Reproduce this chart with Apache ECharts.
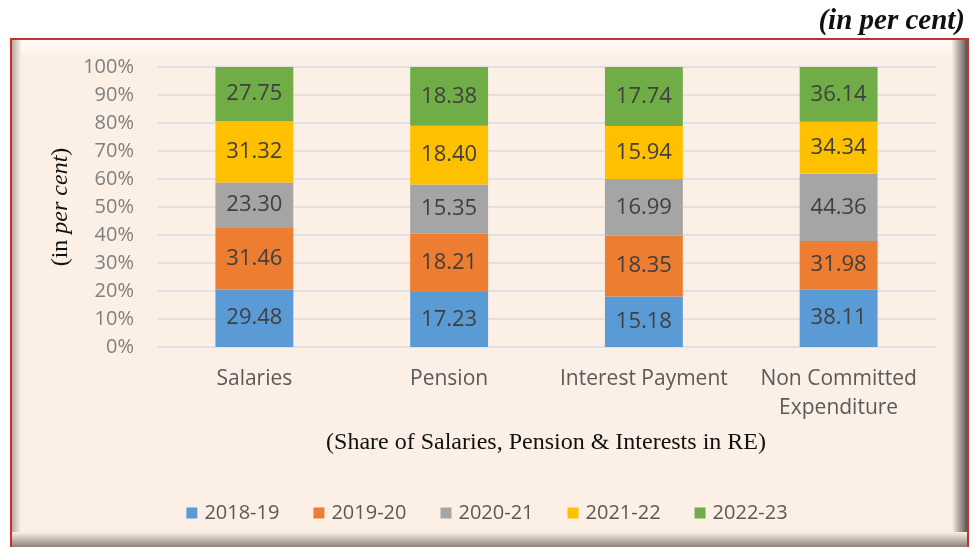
<!DOCTYPE html>
<html>
<head>
<meta charset="utf-8">
<script src="https://cdn.jsdelivr.net/npm/echarts@6/dist/echarts.min.js"></script>
<style>
  html, body { margin: 0; padding: 0; background: #fff; }
  #chart { width: 974px; height: 547px; }
</style>
</head>
<body>
<div id="chart"></div>
<script>
const categories = ['Salaries', 'Pension', 'Interest Payment', 'Non Committed\nExpenditure']
const years = ['2018-19', '2019-20', '2020-21', '2021-22', '2022-23']
const v1819 = [29.48, 17.23, 15.18, 38.11]
const v1920 = [31.46, 18.21, 18.35, 31.98]
const v2021 = [23.30, 15.35, 16.99, 44.36]
const v2122 = [31.32, 18.40, 15.94, 34.34]
const v2223 = [27.75, 18.38, 17.74, 36.14]
const yTicks = ['0%', '10%', '20%', '30%', '40%', '50%', '60%', '70%', '80%', '90%', '100%']

const palette = ['#5B9BD5', '#ED7D31', '#A5A5A5', '#FFC000', '#70AD47']
const raw = [v1819, v1920, v2021, v2122, v2223]

// 100% stacked: each column is scaled to its own total
const totals = categories.map((_, i) => raw.reduce((s, arr) => s + arr[i], 0))

const font = '"Open Sans", "Noto Sans", sans-serif'
const serif = '"Liberation Serif", "DejaVu Serif", serif'

function grad(x2, y2, from, to) {
  return new echarts.graphic.LinearGradient(0, 0, x2, y2, [
    { offset: 0, color: from },
    { offset: 1, color: to }
  ])
}

const chart = echarts.init(document.getElementById('chart'))

chart.setOption({
  backgroundColor: '#ffffff',
  animation: false,
  graphic: [
    // frame
    { type: 'rect', shape: { x: 11, y: 39, width: 957, height: 520 },
      style: { fill: '#FCF0E6', stroke: '#C9302C', lineWidth: 2 }, z: -10 },
    { type: 'rect', shape: { x: 12, y: 40, width: 955, height: 16 },
      style: { fill: grad(0, 1, '#FFFDFB', '#FCF0E6') }, z: -9 },
    { type: 'rect', shape: { x: 12, y: 40, width: 9, height: 507 },
      style: { fill: grad(1, 0, '#B9ACA4', '#FCF0E6') }, z: -8 },
    { type: 'rect', shape: { x: 952, y: 40, width: 15, height: 507 },
      style: { fill: grad(1, 0, '#FCF0E6', '#5E5552') }, z: -8 },
    { type: 'rect', shape: { x: 12, y: 532, width: 955, height: 15 },
      style: { fill: grad(0, 1, '#FCF0E6', '#8E817C') }, z: -7 },
    // titles
    { type: 'text', x: 965, y: 22,
      style: { text: '(in per cent)', font: 'italic bold 29px ' + serif, fill: '#111',
        align: 'right', verticalAlign: 'middle' } },
    { type: 'text', x: 546, y: 443,
      style: { text: '(Share of Salaries, Pension & Interests in RE)', font: '24px ' + serif,
        fill: '#111', align: 'center', verticalAlign: 'middle' } }
  ],
  grid: { left: 157, right: 38, top: 67, bottom: 200 },
  legend: {
    top: 498, left: 'center', itemWidth: 11, itemHeight: 11, itemGap: 34,
    icon: 'rect',
    textStyle: { fontFamily: font, fontSize: 20, color: '#595959', padding: [0, 0, 0, 2] }
  },
  xAxis: {
    type: 'category',
    data: categories,
    axisLine: { show: false },
    axisTick: { show: false },
    axisLabel: { interval: 0, fontFamily: font, fontSize: 21, color: '#595959', margin: 18, lineHeight: 29 }
  },
  yAxis: {
    type: 'value',
    min: 0, max: 100, interval: 10,
    name: '{a|(in }{b|per cent}{a|)}',
    nameLocation: 'middle',
    nameGap: 84,
    nameRotate: 90,
    nameTextStyle: {
      rich: {
        a: { fontFamily: serif, fontSize: 24, color: '#111' },
        b: { fontFamily: serif, fontSize: 24, fontStyle: 'italic', color: '#111' }
      }
    },
    axisLabel: {
      fontFamily: font, fontSize: 20, color: '#7F7F7F', margin: 23,
      formatter: v => yTicks[Math.round(v / 10)]
    },
    splitLine: { lineStyle: { color: '#D9DCE3', width: 1.5 } }
  },
  series: years.map((y, k) => ({
    name: y,
    type: 'bar',
    stack: 'total',
    barWidth: '40%',
    itemStyle: { color: palette[k] },
    label: {
      show: true,
      position: 'inside',
      fontFamily: font,
      fontSize: 22,
      color: '#404040',
      formatter: p => raw[k][p.dataIndex].toFixed(2)
    },
    data: raw[k].map((v, i) => v / totals[i] * 100)
  }))
})
</script>
</body>
</html>
